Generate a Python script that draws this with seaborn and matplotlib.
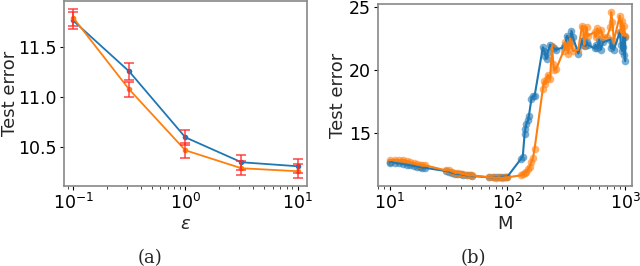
import matplotlib
matplotlib.use("Agg")
import matplotlib.pyplot as plt
import seaborn as sns
import pandas as pd

sns.set_style("ticks")
plt.rcParams["font.family"] = ["DejaVu Sans"]

# --- panel (a): test error vs epsilon ---
eps = [0.1, 0.316, 1.0, 3.16, 10.0]
err_blue = [11.77, 11.26, 10.60, 10.35, 10.31]
err_orange = [11.80, 11.08, 10.47, 10.29, 10.26]
sd_blue = [0.09, 0.085, 0.075, 0.075, 0.07]
sd_orange = [0.085, 0.075, 0.075, 0.07, 0.07]

# --- panel (b): test error vs M ---
m_blue = [10, 10, 11, 12, 13, 14, 15, 16, 17, 18, 19, 20,
          30, 32, 34, 36, 38, 40, 42, 45, 48, 50,
          70, 75, 80, 85, 90, 95, 100,
          130, 135, 140, 142, 145, 150, 152, 160, 165, 170,
          200, 205, 210, 215, 220, 230, 240, 250, 260,
          300, 310, 320, 330, 340, 350, 360, 400,
          430, 440, 450, 460, 470, 480,
          550, 560, 580, 600, 620, 650,
          750, 760, 780, 800,
          900, 920, 940, 950, 960, 980, 1000, 1000]
y_blue = [12.6, 12.7, 12.6, 12.55, 12.5, 12.45, 12.4, 12.35, 12.3, 12.25, 12.2, 12.2,
          11.95, 11.9, 11.8, 11.75, 11.7, 11.7, 11.65, 11.6, 11.6, 11.55,
          11.45, 11.45, 11.45, 11.45, 11.5, 11.5, 11.5,
          12.9, 13.1, 14.9, 15.3, 15.7, 16.0, 16.3, 17.7, 17.9, 17.9,
          21.8, 21.5, 21.1, 20.9, 21.4, 22.0, 21.8, 21.7, 21.6,
          21.8, 22.0, 22.7, 22.5, 22.2, 23.1, 22.6, 21.3,
          22.3, 22.0, 22.4, 21.9, 22.2, 22.0,
          21.7, 22.0, 21.7, 22.4, 21.6, 22.2,
          22.4, 21.7, 22.0, 21.6,
          23.0, 22.0, 21.5, 21.8, 22.6, 21.2, 20.7, 22.6]

m_orange = [10, 11, 12, 13, 14, 15, 16, 17, 18, 19, 20,
            30, 32, 34, 36, 38, 40, 42, 45, 48, 50,
            70, 75, 80, 85, 90, 95, 100,
            130, 135, 140, 145, 150, 155, 160, 165, 170,
            200, 205, 210, 215, 220, 230, 240, 245, 250, 260,
            300, 310, 320, 330, 340, 350, 360, 400,
            430, 440, 450, 460, 470, 480,
            550, 560, 580, 600, 620, 650,
            700, 750, 760, 780, 800,
            900, 920, 940, 960, 980, 1000]
y_orange = [12.8, 12.85, 12.8, 12.85, 12.75, 12.65, 12.6, 12.5, 12.45, 12.4, 12.4,
            12.0, 12.0, 11.9, 11.8, 11.8, 11.75, 11.7, 11.65, 11.6, 11.6,
            11.45, 11.45, 11.4, 11.45, 11.4, 11.45, 11.45,
            11.6, 11.7, 11.8, 11.9, 12.1, 12.3, 12.7, 13.0, 13.7,
            18.5, 19.1, 18.9, 19.3, 19.6, 19.3, 21.9, 20.5, 20.0, 20.1,
            21.5, 22.2, 21.8, 21.3, 22.5, 22.0, 21.5, 21.6,
            23.5, 23.3, 22.0, 22.8, 23.4, 22.7,
            23.0, 22.6, 23.3, 22.9, 23.2, 22.6,
            22.6, 23.4, 24.6, 23.8, 22.3,
            24.3, 23.0, 23.9, 22.8, 23.5, 22.7]

blue = "#1f77b4"
orange = "#ff7f0e"

fig = plt.figure(figsize=(6.4, 2.66), dpi=100)
ax1 = fig.add_axes([0.1, 0.30, 0.38, 0.698])
ax2 = fig.add_axes([0.59, 0.30, 0.398, 0.685])

# (a)
df_a = pd.DataFrame({"eps": eps, "blue": err_blue, "orange": err_orange})
sns.lineplot(data=df_a, x="eps", y="blue", ax=ax1, color=blue, marker="o",
             markersize=4, markeredgewidth=0, linewidth=1.3)
sns.lineplot(data=df_a, x="eps", y="orange", ax=ax1, color=orange, marker="o",
             markersize=4, markeredgewidth=0, linewidth=1.3)
ax1.errorbar(eps, err_blue, yerr=sd_blue, fmt="none", ecolor="#ff2a2a",
             elinewidth=1.2, capsize=3.5, capthick=1.2, alpha=0.8)
ax1.errorbar(eps, err_orange, yerr=sd_orange, fmt="none", ecolor="#ff2a2a",
             elinewidth=1.2, capsize=3.5, capthick=1.2, alpha=0.8)
ax1.set_xscale("log")
ax1.set_ylim(10.11, 11.97)
ax1.set_xlim(0.083, 12.2)
ax1.set_yticks([10.5, 11.0, 11.5])
ax1.set_xlabel(r"$\epsilon$", fontsize=13, labelpad=1)
ax1.set_ylabel("Test error", fontsize=13, labelpad=0)

# (b)
sns.lineplot(x=m_blue, y=y_blue, ax=ax2, color=blue, estimator=None,
             sort=False, linewidth=1.5)
sns.scatterplot(x=m_blue, y=y_blue, ax=ax2, color=blue, s=30, alpha=0.6,
                edgecolor=None, linewidth=0)
sns.lineplot(x=m_orange, y=y_orange, ax=ax2, color=orange, estimator=None,
             sort=False, linewidth=1.5)
sns.scatterplot(x=m_orange, y=y_orange, ax=ax2, color=orange, s=30, alpha=0.6,
                edgecolor=None, linewidth=0)
ax2.set_xscale("log")
ax2.set_xlim(7.9, 1150)
ax2.set_ylim(10.74, 25.24)
ax2.set_yticks([15, 20, 25])
ax2.set_xlabel("M", fontsize=13, labelpad=1)
ax2.set_ylabel("Test error", fontsize=13, labelpad=1)

for ax in (ax1, ax2):
    ax.tick_params(labelsize=12.5, colors="black", length=3, pad=2)
    ax.tick_params(which="minor", length=1.8)
    for sp in ax.spines.values():
        sp.set_color("#888888")
        sp.set_linewidth(1.2)

fig.text(0.235, 0.03, "(a)", ha="center", va="center", fontsize=13,
         family="DejaVu Serif")
fig.text(0.74, 0.03, "(b)", ha="center", va="center", fontsize=13,
         family="DejaVu Serif")

fig.savefig("out.png", dpi=100)
